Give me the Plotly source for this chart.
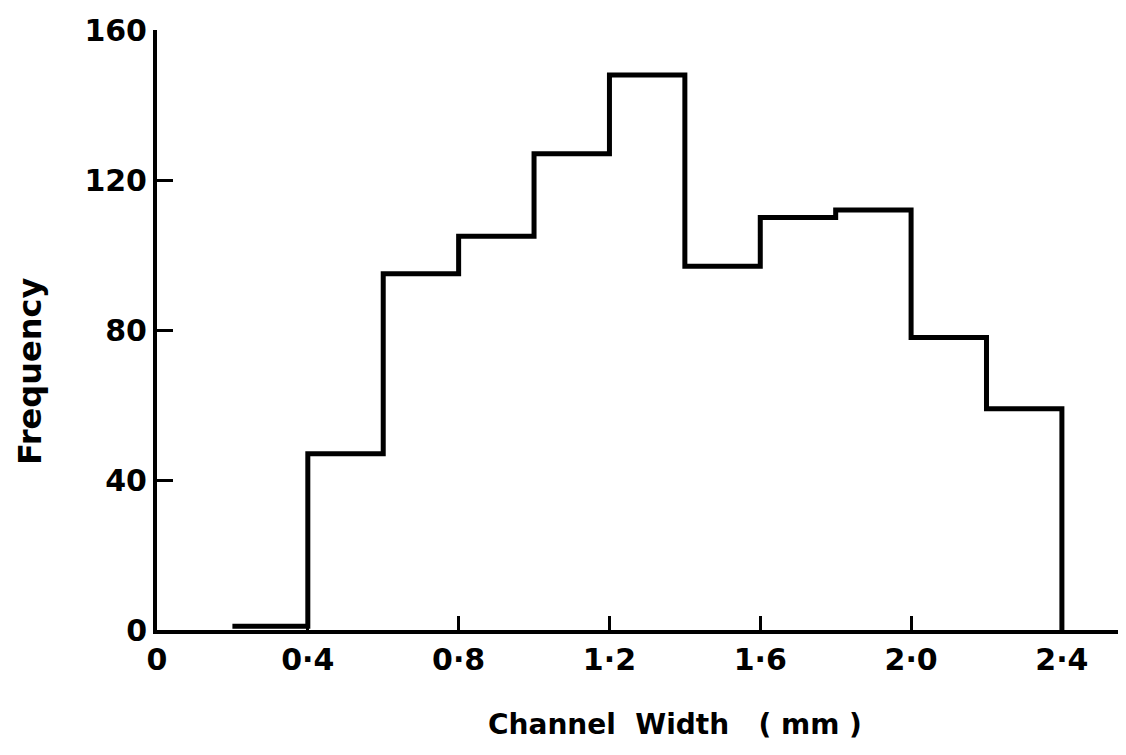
import plotly.graph_objects as go

# Histogram bins (channel width, mm) and frequencies
bin_left = [0.2, 0.4, 0.6, 0.8, 1.0, 1.2, 1.4, 1.6, 1.8, 2.0, 2.2]
bin_right_end = 2.4
frequency = [1, 47, 95, 105, 127, 148, 97, 110, 112, 78, 59]

x_ticks = [0, 0.4, 0.8, 1.2, 1.6, 2.0, 2.4]
x_ticktext = ["0", "0·4", "0·8", "1·2", "1·6", "2·0", "2·4"]
y_ticks = [0, 40, 80, 120, 160]
y_ticktext = ["0", "40", "80", "120", "160"]

xs = bin_left + [bin_right_end]
ys = frequency + [0]

fig = go.Figure()
fig.add_trace(go.Scatter(
    x=xs, y=ys, mode="lines", line=dict(shape="hv", color="black", width=5),
    hoverinfo="skip", showlegend=False,
))

font_family = "DejaVu Sans"
W, H = 1118, 747
L, T, B = 149, 22, 125
pw, ph = W - L, H - T - B

fig.update_layout(
    width=W, height=H,
    margin=dict(l=L, r=0, t=T, b=B),
    paper_bgcolor="white", plot_bgcolor="white",
    font=dict(family=font_family, color="black", size=30, weight="bold"),
    xaxis=dict(
        range=[0, 2.57], showgrid=False, zeroline=False,
        showline=True, linecolor="black", linewidth=4,
        tickmode="array", tickvals=x_ticks, ticktext=x_ticktext,
        ticks="inside", ticklen=14, tickwidth=3, tickcolor="black",
        tickfont=dict(size=30, weight="bold"),
    ),
    yaxis=dict(
        range=[0, 160], showgrid=False, zeroline=False,
        showline=True, linecolor="black", linewidth=4,
        tickmode="array", tickvals=y_ticks, ticktext=y_ticktext,
        ticks="inside", ticklen=16, tickwidth=3, tickcolor="black",
        tickfont=dict(size=30, weight="bold"),
    ),
    annotations=[
        dict(text="Channel  Width   ( mm )", xref="paper", yref="paper",
             x=(667 - L) / pw, y=(T + ph - 717) / ph, xanchor="center", yanchor="middle",
             showarrow=False, font=dict(size=28, family=font_family, weight="bold")),
        dict(text="Frequency", xref="paper", yref="paper",
             x=(22 - L) / pw, y=(T + ph - 364) / ph, xanchor="center", yanchor="middle",
             textangle=-90, showarrow=False, font=dict(size=32, family=font_family, weight="bold")),
    ],
)

fig.write_html("out.html")
